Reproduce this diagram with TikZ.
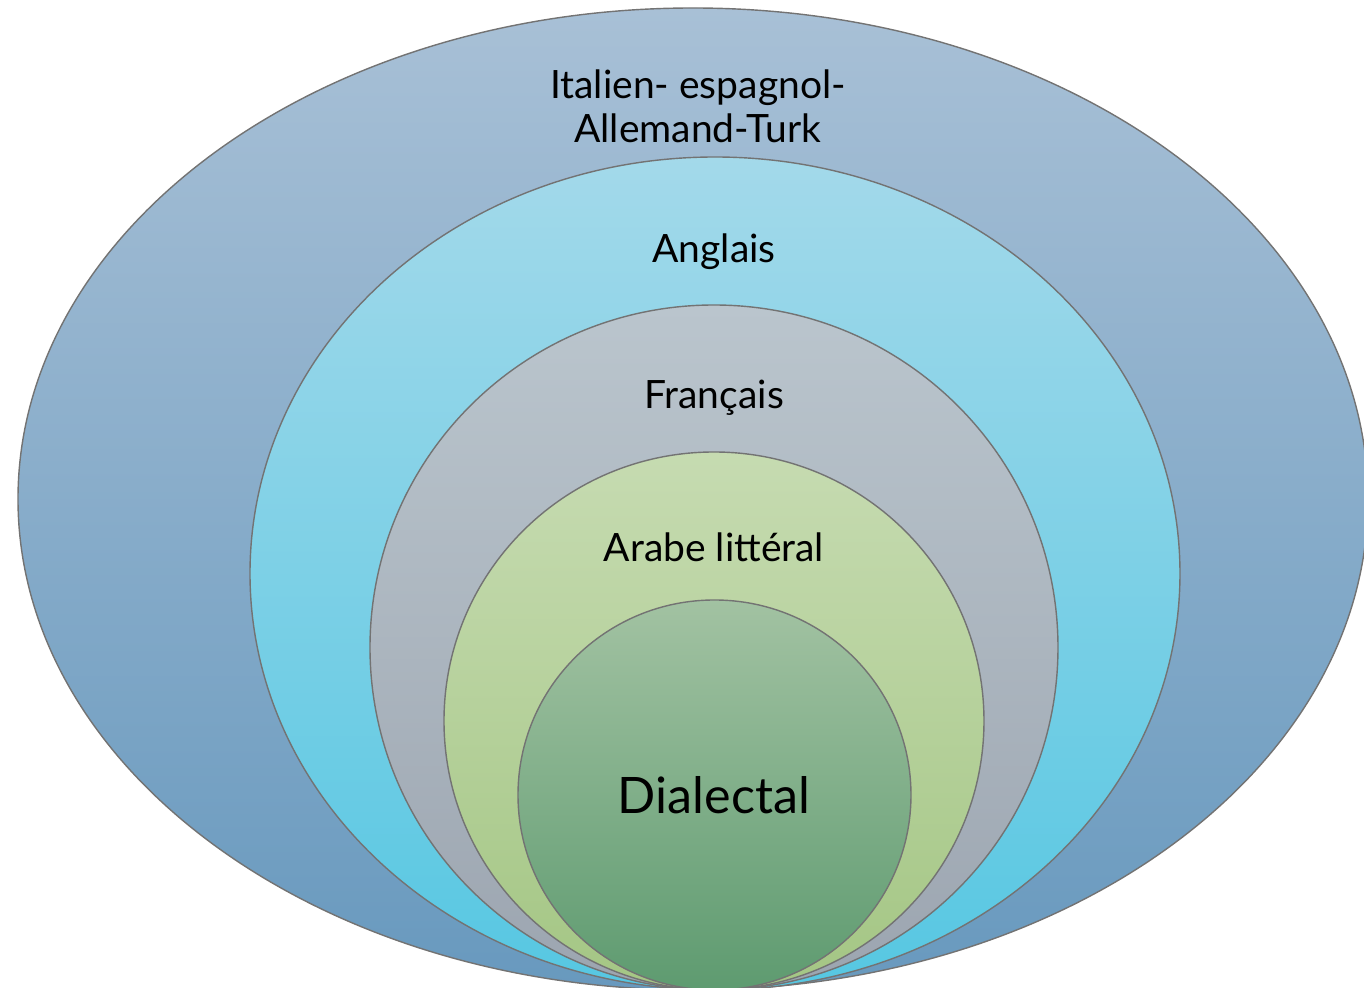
\documentclass[tikz,border=0pt]{standalone}
\usepackage{fontspec}
\setmainfont{Lato}
\usepackage{tikz}
\usetikzlibrary{shapes.geometric,positioning}
\tikzset{ring/.style={ellipse,draw=black!55,line width=0.4pt,inner sep=0pt},
         lab/.style={font=\fontsize{11.1}{12.6}\selectfont,align=center,inner sep=0pt}}

\begin{document}
\begin{tikzpicture}
        \useasboundingbox (0,0) rectangle (13.64,-9.88);
        \clip (0,0) rectangle (13.64,-9.88);

        \node[ring,top color={rgb,255:red,168;green,192;blue,214},bottom color={rgb,255:red,104;green,153;blue,190},
              minimum width=13.50cm,minimum height=9.82cm] (autres) at (6.93,-4.99) {};
        \node[ring,top color={rgb,255:red,163;green,217;blue,234},bottom color={rgb,255:red,86;green,199;blue,226},
              minimum width=9.30cm,minimum height=8.33cm] (anglais) at (7.15,-5.735) {};
        \node[ring,top color={rgb,255:red,186;green,197;blue,205},bottom color={rgb,255:red,156;green,165;blue,176},
              minimum width=6.88cm,minimum height=6.85cm] (francais) at (7.14,-6.475) {};
        \node[ring,top color={rgb,255:red,198;green,219;blue,177},bottom color={rgb,255:red,164;green,198;blue,132},
              minimum width=5.40cm,minimum height=5.38cm] (arabe) at (7.14,-7.21) {};
        \node[ring,top color={rgb,255:red,162;green,194;blue,162},bottom color={rgb,255:red,94;green,155;blue,112},
              minimum width=3.93cm,minimum height=3.90cm] (dial) at (7.145,-7.95) {};

        \node[lab] (tautres) at (6.98,-1.06) {Italien- espagnol-\\Allemand-Turk};
        \node[lab] (tanglais) at (7.14,-2.52) {Anglais};
        \node[lab] (tfrancais) at (7.14,-3.98) {Français};
        \node[lab] (tarabe) at (7.14,-5.47) {Arabe littéral};
        \node[lab,font=\fontsize{14.3}{17}\selectfont] (tdial) at (7.14,-7.95) {Dialectal};
    \end{tikzpicture}
\end{document}
